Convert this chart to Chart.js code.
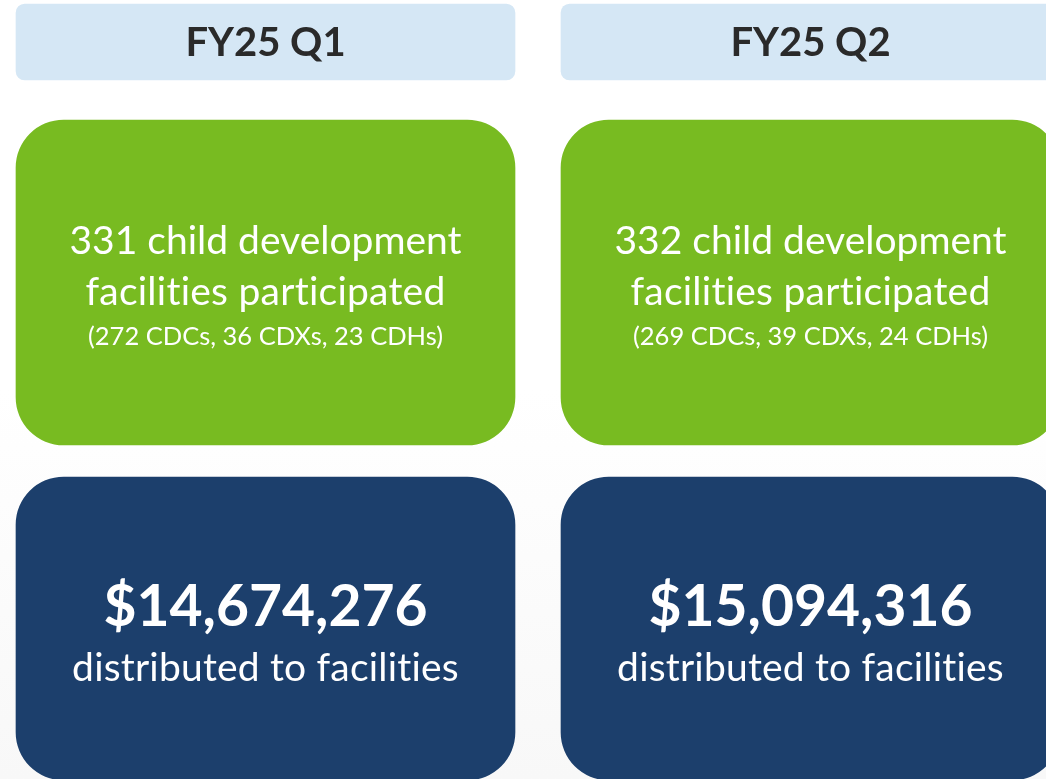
<!DOCTYPE html>
<html>
<head>
<meta charset="utf-8">
<script src="https://cdn.jsdelivr.net/npm/chart.js@4/dist/chart.umd.min.js"></script>
<style>
  html, body { margin: 0; padding: 0; width: 1046px; height: 779px; overflow: hidden;
    background: linear-gradient(to bottom, #ffffff 0%, #ffffff 50%, #f8f8f8 100%); }
  #wrap { position: absolute; left: -7px; top: 0; width: 1090px; height: 779px; }
</style>
</head>
<body>
<div id="wrap"><canvas id="c" width="1090" height="779"></canvas></div>
<script>
// ---- data ----
const quarters = ['FY25 Q1', 'FY25 Q2'];
const facilities = [331, 332];
const cdcs = [272, 269];
const cdxs = [36, 39];
const cdhs = [23, 24];
const distributed = [14674276, 15094316];

// ---- layout (panel rows on a hidden 0..779 scale) ----
const headerRow = [4, 80];
const facilityRow = [120, 445];
const fundingRow = [477, 780];

const FONT = 'Lato, "Open Sans", sans-serif';

const textPlugin = {
  id: 'panelText',
  afterDatasetsDraw(chart) {
    const ctx = chart.ctx;
    const yS = chart.scales.y;
    ctx.save();
    ctx.textAlign = 'center';
    ctx.textBaseline = 'middle';
    const put = (txt, x, y, font, spacing) => {
      ctx.font = font;
      if ('letterSpacing' in ctx) ctx.letterSpacing = spacing || '0px';
      ctx.fillText(txt, x, y);
    };
    quarters.forEach((q, i) => {
      const x = chart.getDatasetMeta(0).data[i].x;
      // header
      const hc = (yS.getPixelForValue(headerRow[0]) + yS.getPixelForValue(headerRow[1])) / 2;
      ctx.fillStyle = '#2a2a2a';
      put(q, x, hc + 1, 'bold 40px ' + FONT);
      // facilities
      const fc = (yS.getPixelForValue(facilityRow[0]) + yS.getPixelForValue(facilityRow[1])) / 2;
      ctx.fillStyle = '#ffffff';
      put(facilities[i] + ' child development', x, fc - 41, '39px ' + FONT);
      put('facilities participated', x, fc + 10, '39px ' + FONT, '0.25px');
      put('(' + cdcs[i] + ' CDCs, ' + cdxs[i] + ' CDXs, ' + cdhs[i] + ' CDHs)', x, fc + 54, '25.5px ' + FONT);
      // funding
      const nc = (yS.getPixelForValue(fundingRow[0]) + yS.getPixelForValue(fundingRow[1])) / 2;
      put('$' + distributed[i].toLocaleString('en-US'), x, nc - 21, 'bold 57px ' + FONT);
      put('distributed to facilities', x, nc + 40, '39px ' + FONT, '0.2px');
    });
    ctx.restore();
  }
};

const common = { grouped: false, barThickness: 499, borderSkipped: false, borderWidth: 0 };

new Chart(document.getElementById('c'), {
  type: 'bar',
  data: {
    labels: quarters,
    datasets: [
      Object.assign({ label: 'Quarter', data: quarters.map(() => headerRow), backgroundColor: '#d5e7f5', borderRadius: 9 }, common),
      Object.assign({ label: 'Facilities', data: facilities.map(() => facilityRow), backgroundColor: '#78bb21', borderRadius: 48 }, common),
      Object.assign({ label: 'Distributed', data: distributed.map(() => fundingRow), backgroundColor: '#1c3f6c', borderRadius: 48 }, common)
    ]
  },
  options: {
    responsive: false,
    animation: false,
    layout: { padding: 0 },
    plugins: { legend: { display: false }, tooltip: { enabled: false }, title: { display: false } },
    scales: {
      x: { display: false, offset: true },
      y: { display: false, min: 0, max: 779, reverse: true }
    }
  },
  plugins: [textPlugin]
});
</script>
</body>
</html>
